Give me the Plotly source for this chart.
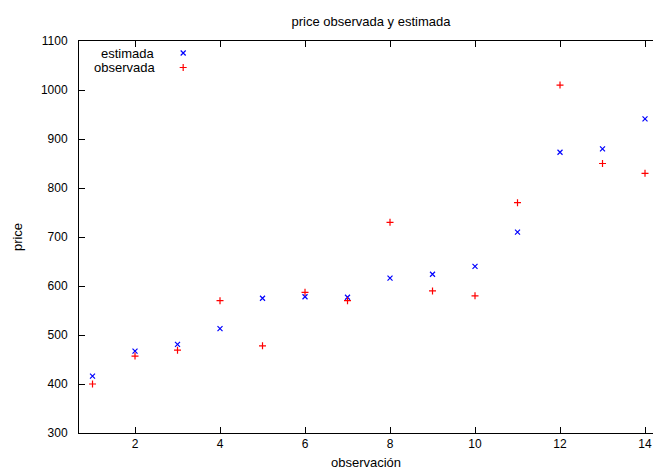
import plotly.graph_objects as go

obs_x = list(range(1, 15))
estimada = [416, 467, 481, 513, 575, 578, 577, 616, 624, 640, 710, 873, 880, 941]
observada = [400, 457, 469, 570, 478, 587, 570, 730, 590, 580, 770, 1010, 850, 830]
x_ticks = [2, 4, 6, 8, 10, 12, 14]
y_ticks = [300, 400, 500, 600, 700, 800, 900, 1000, 1100]
series_names = ["estimada", "observada"]

FONT = "Liberation Sans, Arial, sans-serif"
BLUE = "#0000ff"
RED = "#ff0000"

W, H = 653, 470

fig = go.Figure()
fig.add_trace(go.Scatter(
    x=obs_x, y=estimada, mode="markers", name=series_names[0],
    marker=dict(symbol="x-thin-open", size=5, color=BLUE, line=dict(width=1.2, color=BLUE)),
    showlegend=False))
fig.add_trace(go.Scatter(
    x=obs_x, y=observada, mode="markers", name=series_names[1],
    marker=dict(symbol="cross-thin-open", size=5, color=RED, line=dict(width=1.2, color=RED)),
    showlegend=False))

# gnuplot-style key: label on the left, sample symbol on the right
key_y = [1 - 12 / 392, 1 - 26.5 / 392]
key_syms = [("x-thin-open", BLUE), ("cross-thin-open", RED)]
for name, ky, (sym, col) in zip(series_names, key_y, key_syms):
    fig.add_trace(go.Scatter(
        x=[0.1815], y=[ky], xaxis="x2", yaxis="y2", mode="markers",
        marker=dict(symbol=sym, size=5, color=col, line=dict(width=1.2, color=col)),
        hoverinfo="skip", showlegend=False))
    fig.add_annotation(x=0.136, y=ky, xref="paper", yref="paper", text=name,
                       showarrow=False, xanchor="right", yanchor="middle",
                       font=dict(family=FONT, size=13, color="#000000"))

fig.update_layout(
    width=W, height=H,
    margin=dict(l=79, r=0, t=41, b=37),
    paper_bgcolor="white", plot_bgcolor="white",
    font=dict(family=FONT, size=12, color="#000000"),
    title=dict(text="price observada y estimada", x=371 / W, xanchor="center",
               y=1 - 21 / H, yanchor="middle",
               font=dict(family=FONT, size=13, color="#000000")),
    xaxis=dict(range=[0.682, 14.188], tickvals=x_ticks, ticks="inside", ticklen=6,
               tickcolor="#000000", showline=True, linecolor="#000000", linewidth=1,
               mirror="ticks", showgrid=False, zeroline=False, automargin=False,
               tickfont=dict(family=FONT, size=12),
               title=dict(text="observación", font=dict(family=FONT, size=13))),
    yaxis=dict(range=[300, 1100], tickvals=y_ticks, ticks="inside", ticklen=6,
               tickcolor="#000000", showline=True, linecolor="#000000", linewidth=1,
               mirror=False, showgrid=False, zeroline=False, automargin=True,
               ticklabelstandoff=8,
               tickfont=dict(family=FONT, size=12),
               title=dict(text="price", standoff=15, font=dict(family=FONT, size=13))),
    xaxis2=dict(range=[0, 1], overlaying="x", visible=False, fixedrange=True),
    yaxis2=dict(range=[0, 1], overlaying="y", visible=False, fixedrange=True),
    showlegend=False,
)

fig.write_html(
    "out.html",
    config={"displayModeBar": False},
    post_script="document.body.style.margin='0';document.body.style.overflow='hidden';",
)
